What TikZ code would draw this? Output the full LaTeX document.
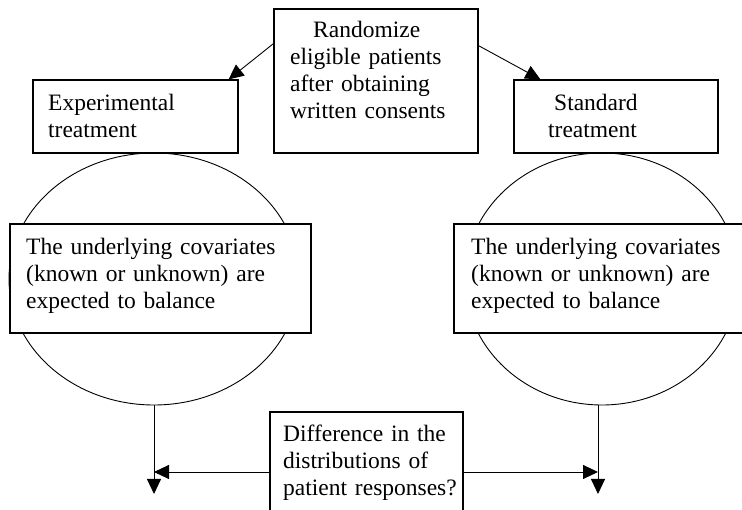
\documentclass[tikz,border=0pt]{standalone}
\usepackage{fontspec}
\setmainfont{Liberation Serif}
\usetikzlibrary{shapes.geometric}
\usetikzlibrary{arrows.meta}

\begin{document}
\begin{tikzpicture}[x=1pt, y=-1pt, >={Triangle[length=15pt, width=14pt]},
	box/.style={draw, line width=1.2pt, fill=white, inner sep=0pt},
	blob/.style={draw, ellipse, line width=0.9pt, inner sep=0pt, minimum height=252pt},
	txt/.style={anchor=base west, inner sep=0pt, text width=320pt, align=left, font=\fontsize{23.5}{27}\selectfont}]
	\useasboundingbox (0,0) rectangle (742,510);
	\clip (0,0) rectangle (742,510);
	
	% 两个圆
	\node[blob, minimum width=290pt] (lcirc) at (154,279) {};
	\node[blob, minimum width=274pt] (rcirc) at (602,279) {};
	
	% 上方三个框
	\node[box, minimum width=204pt, minimum height=144pt] (rand) at (376,81) {};
	\node[box, minimum width=205pt, minimum height=73pt] (exper) at (135.5,116.5) {};
	\node[box, minimum width=204pt, minimum height=73pt] (stand) at (616,116.5) {};
	
	% 中间两个框与下方框
	\node[box, minimum width=301pt, minimum height=109pt] (lcov) at (160.5,278.5) {};
	\node[box, minimum width=301pt, minimum height=109pt] (rcov) at (604.5,278.5) {};
	\node[box, minimum width=193pt, minimum height=110pt] (diff) at (366.5,467) {};
	
	% 文字
	\node[txt] (rand-t) at (290,38) {\hspace*{23pt}Randomize\\eligible patients\\after obtaining\\written consents};
	\node[txt] (exper-t) at (48,111) {Experimental\\treatment};
	\node[txt] (stand-t) at (548,111) {\hspace*{6pt}Standard\\treatment};
	\node[txt] (lcov-t) at (26,255) {The underlying covariates\\(known or unknown) are\\expected to balance};
	\node[txt] (rcov-t) at (471,255) {The underlying covariates\\(known or unknown) are\\expected to balance};
	\node[txt] (diff-t) at (283,442) {Difference in the\\distributions of\\patient responses?};
	
	% 随机分组箭头
	\draw[->, line width=0.9pt] (rand.160.6) -- ([xshift=-10pt]exper.north east);
	\draw[->, line width=0.9pt] (rand.19.4) -- ([xshift=27pt]stand.north west);
	
	% 下方箭头
	\coordinate (lmeet) at (154,472);
	\coordinate (rmeet) at (598,472);
	\coordinate (lend) at (154,494);
	\coordinate (rend) at (598,494);
	\draw[->, line width=0.9pt] (lcirc.south) -- (lend);
	\draw[->, line width=0.9pt] (rcirc.south -| rmeet) -- (rend);
	\draw[->, line width=0.9pt] (diff.west |- lmeet) -- (lmeet);
	\draw[->, line width=0.9pt] (diff.east |- rmeet) -- (rmeet);
\end{tikzpicture}
\end{document}
